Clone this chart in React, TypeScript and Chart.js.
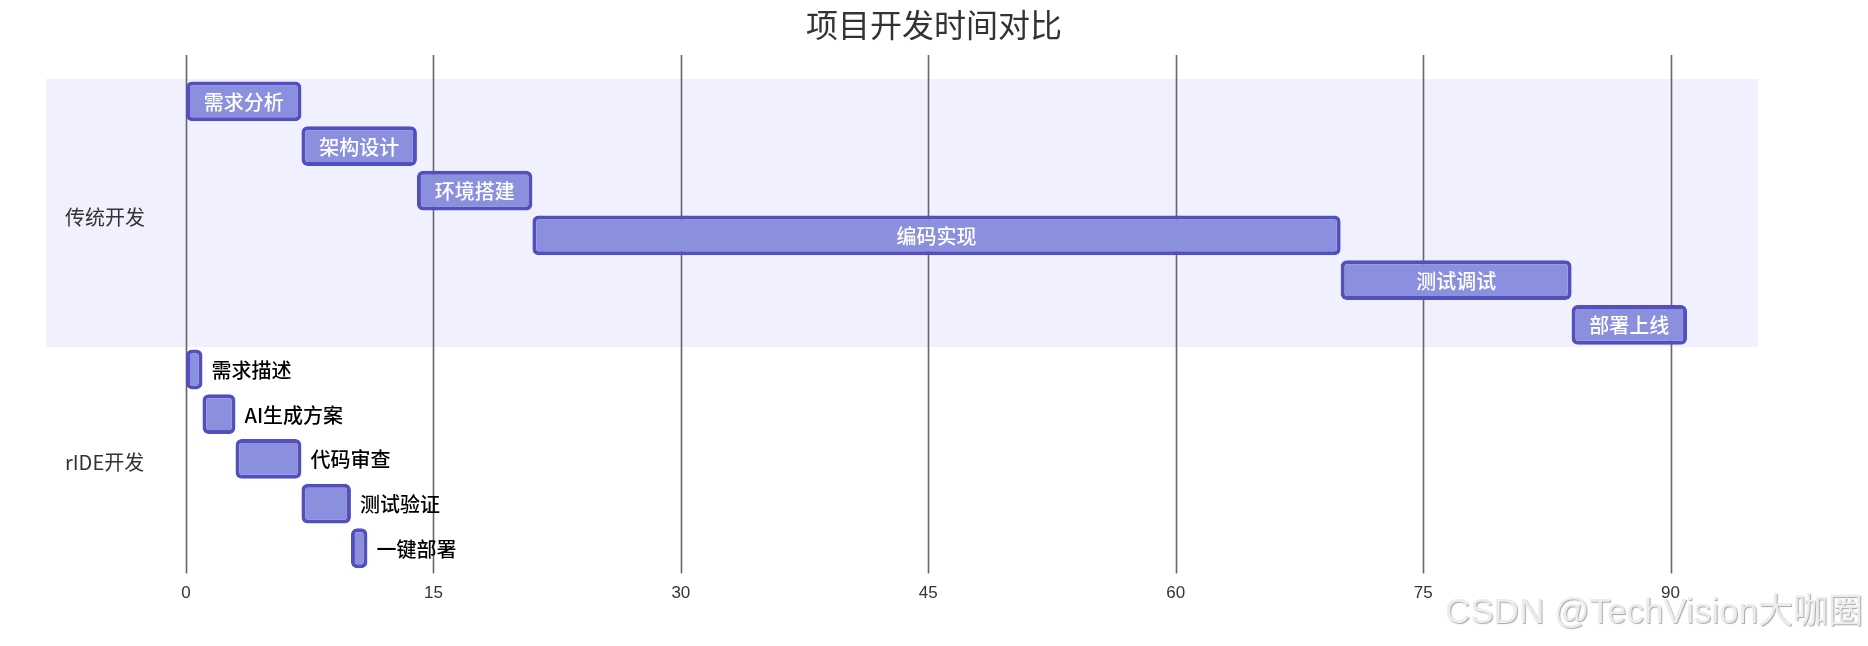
import { useEffect, useRef } from 'react'
import Chart from 'chart.js/auto'

const chartTitle = '项目开发时间对比'
const tasks = ['需求分析', '架构设计', '环境搭建', '编码实现', '测试调试', '部署上线', '需求描述', 'AI生成方案', '代码审查', '测试验证', '一键部署']
const starts = [0, 7, 14, 21, 70, 84, 0, 1, 3, 7, 10]
const ends = [7, 14, 21, 70, 84, 91, 1, 3, 7, 10, 11]
const sections = ['传统开发', 'rIDE开发']
const sectionFirst = [0, 6]
const sectionLast = [5, 10]
const xMax = 95.3
const xStep = 15

const CJK = '"Noto Sans CJK SC", "Noto Sans", sans-serif'

const ganttPlugin = {
  id: 'gantt',
  beforeDatasetsDraw(chart: any) {
    const { ctx, chartArea, scales, width } = chart
    const x = scales.x
    const y = scales.y
    const step = y.getPixelForValue(1) - y.getPixelForValue(0)
    ctx.save()
    // title, centred on the whole canvas
    ctx.fillStyle = '#333'
    ctx.font = `32px ${CJK}`
    ctx.textAlign = 'center'
    ctx.textBaseline = 'middle'
    ctx.fillText(chartTitle, width / 2, 25)
    // section bands (first section shaded)
    sections.forEach((name, s) => {
      const top = y.getPixelForValue(sectionFirst[s]) - step / 2
      const bottom = y.getPixelForValue(sectionLast[s]) + step / 2
      if (s % 2 === 0) {
        ctx.fillStyle = '#f0f0ff'
        ctx.fillRect(chartArea.left - 140, top, chartArea.right - chartArea.left + 140, bottom - top)
      }
      ctx.fillStyle = '#333'
      ctx.font = `20px ${CJK}`
      ctx.textAlign = 'left'
      ctx.textBaseline = 'middle'
      ctx.fillText(name, chartArea.left - 121, (top + bottom) / 2 + 4)
    })
    // grid lines
    ctx.strokeStyle = '#666'
    ctx.lineWidth = 1.6
    x.ticks.forEach((t: any) => {
      const px = Math.round(x.getPixelForValue(t.value)) + 0.5
      ctx.beginPath()
      ctx.moveTo(px, chartArea.top - 24)
      ctx.lineTo(px, chartArea.bottom + 3)
      ctx.stroke()
    })
    ctx.restore()
  },
  afterDatasetsDraw(chart: any) {
    const { ctx } = chart
    const meta = chart.getDatasetMeta(0)
    ctx.save()
    ctx.font = `500 20px ${CJK}`
    ctx.textBaseline = 'middle'
    meta.data.forEach((bar: any, i: number) => {
      const { x, base, y } = bar.getProps(['x', 'base', 'y'], true)
      const left = Math.min(x, base)
      const right = Math.max(x, base)
      const text = tasks[i]
      const w = ctx.measureText(text).width
      if (w + 10 < right - left) {
        ctx.fillStyle = '#fff'
        ctx.textAlign = 'center'
        ctx.fillText(text, (left + right) / 2, y + 1)
      } else {
        ctx.fillStyle = '#000'
        ctx.textAlign = 'left'
        ctx.fillText(text, right + 9, y + 1)
      }
    })
    ctx.restore()
  },
}

export default function App() {
  const ref = useRef<HTMLCanvasElement>(null)

  useEffect(() => {
    document.body.style.margin = '0'
    if (!ref.current) return

    const chart = new Chart(ref.current, {
      type: 'bar',
      data: {
        labels: tasks,
        datasets: [
          {
            data: tasks.map((_, i) => [starts[i], ends[i]]),
            backgroundColor: '#8a90dd',
            borderColor: '#534fbc',
            borderWidth: 4,
            borderRadius: 6,
            borderSkipped: false,
            barPercentage: 0.89,
            categoryPercentage: 1,
          },
        ],
      },
      options: {
        indexAxis: 'y',
        responsive: false,
        animation: false,
        layout: { padding: { left: 186, right: 110, top: 79, bottom: 37 } },
        plugins: {
          legend: { display: false },
          tooltip: { enabled: false },
          title: { display: false },
        },
        scales: {
          x: {
            min: 0,
            max: xMax,
            grid: { display: false },
            border: { display: false },
            ticks: {
              stepSize: xStep,
              includeBounds: false,
              padding: 5,
              color: '#333',
              font: { size: 17, family: '"Liberation Sans", sans-serif' },
            },
          },
          y: { display: false },
        },
      },
      plugins: [ganttPlugin],
    } as any)

    return () => chart.destroy()
  }, [])

  return (
    <div style={{ position: 'relative', width: 1868, height: 646 }}>
      <canvas ref={ref} width={1868} height={646} style={{ display: 'block' }} />
      <div
        style={{
          position: 'absolute',
          left: 1445,
          top: 591,
          fontFamily: '"Liberation Sans", "Noto Sans CJK SC", sans-serif',
          fontSize: 35,
          lineHeight: '40px',
          color: '#ececec',
          textShadow: '1px 1px 1px #a8a8a8',
          whiteSpace: 'nowrap',
        }}
      >
        CSDN @TechVision大咖圈
      </div>
    </div>
  )
}
